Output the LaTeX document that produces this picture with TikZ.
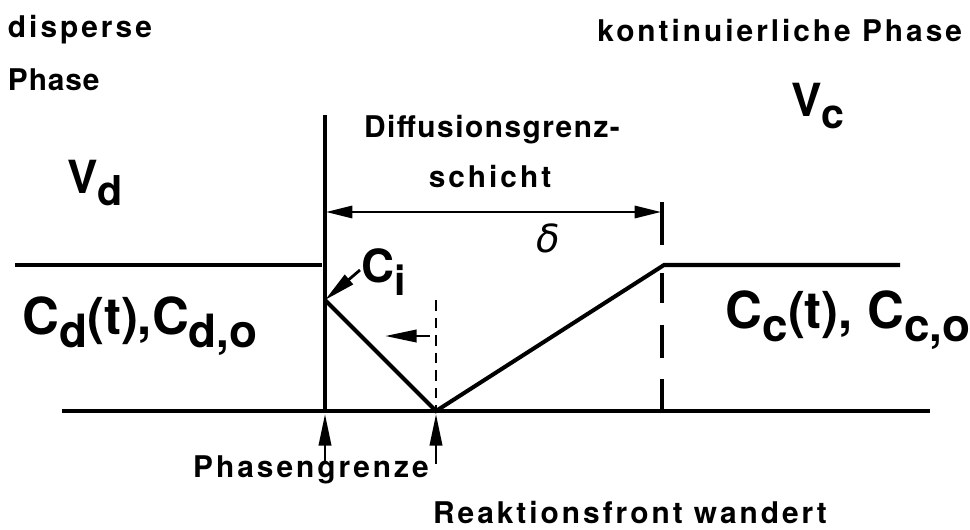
\documentclass[tikz,border=0pt]{standalone}
\usepackage{fontspec}
\setmainfont{TeX Gyre Heros}
\newfontfamily\grk{DejaVu Sans}
\usetikzlibrary{arrows.meta}
\newcommand{\lowsub}[1]{\raisebox{-0.5ex}{\scalebox{0.9}{#1}}}
\begin{document}
\begin{tikzpicture}[x=0.02cm,y=-0.02cm,
  every node/.style={inner sep=0pt,outer sep=0pt},
  lbl/.style={font=\fontsize{17}{19}\selectfont\bfseries\addfontfeature{LetterSpace=10}},
  big/.style={font=\fontsize{29}{32}\selectfont\bfseries},
  mid/.style={font=\fontsize{26}{30}\selectfont\bfseries},
  mainline/.style={line width=2.3pt},
  arrowline/.style={-{Stealth[length=18pt,width=7pt,inset=0pt]}, line width=1.6pt},
  dimline/.style={{Stealth[length=15pt,width=7pt,inset=0pt]}-{Stealth[length=15pt,width=7pt,inset=0pt]}, line width=1.3pt}
  ]
\useasboundingbox (0,0) rectangle (970,529);

% coordinates
\coordinate (pgTop) at (325,115);
\coordinate (pgBot) at (325,412);
\coordinate (ci) at (325,300);
\coordinate (rf) at (436,411);
\coordinate (dEnd) at (664,265);
\coordinate (lL) at (15,265);
\coordinate (lR) at (322,265);
\coordinate (rR) at (900,265);
\coordinate (bL) at (62,411);
\coordinate (bR) at (930,411);
\coordinate (rfTop) at (436,300);
\coordinate (dTop) at (662,202);
\coordinate (dBot) at (662,411);
\coordinate (dimL) at (326,212);
\coordinate (dimR) at (661,212);

% main lines
\draw[mainline] (pgTop) -- (pgBot);
\draw[mainline] (bL) -- (bR);
\draw[mainline] (lL) -- (lR);
\draw[mainline, line join=miter] (ci) -- (rf) -- (dEnd) -- (rR);
\draw[line width=1.6pt, dash pattern=on 6pt off 4pt] (rfTop) -- (rf);
\draw[line width=2.2pt, dash pattern=on 24.4pt off 15.9pt on 17pt off 12.5pt on 18.7pt off 12.5pt on 18pt] (dTop) -- (dBot);
\draw[dimline] (dimL) -- (dimR);

% texts
\node[lbl, anchor=west] (disp) at (8,30) {disperse};
\node[lbl, anchor=west, font=\fontsize{17}{19}\selectfont\bfseries\addfontfeature{LetterSpace=3}] (phl) at (8,80) {Phase};
\node[mid] (vd) at (95,183) {V\lowsub{d}};
\node[lbl, anchor=east] (kont) at (962,30) {kontinuierliche Phase};
\node[mid] (vc) at (818,106) {V\lowsub{c}};
\node[lbl, font=\fontsize{17}{19}\selectfont\bfseries\addfontfeature{LetterSpace=5}] (diff) at (492,130) {Diffusionsgrenz-};
\node[lbl] (schicht) at (490,176) {schicht};
\node[font=\grk\fontsize{22}{24}\selectfont\itshape] (delta) at (548,238) {δ};
\node[mid] (cilab) at (384,272) {C\lowsub{i}};
\node[big] (cd) at (140,326) {C\lowsub{d}(t),C\lowsub{d,o}};
\node[big] (cc) at (848,320) {C\lowsub{c}(t), C\lowsub{c,o}};
\node[lbl] (phg) at (311,470) {Phasengrenze};
\node[lbl] (rfw) at (630,512) {Reaktionsfront wandert};

% arrows
\coordinate (ciTail) at (360,270);
\draw[arrowline] (ciTail) -- (ci);
\coordinate (mvR) at (430,336);
\coordinate (mvL) at (385,336);
\draw[arrowline] (mvR) -- (mvL);
\coordinate (pgArr) at (325,464);
\coordinate (pgHead) at (325,414);
\draw[arrowline] (pgArr) -- (pgHead);
\coordinate (rfArr) at (436,464);
\coordinate (rfHead) at (436,414);
\draw[arrowline] (rfArr) -- (rfHead);
\end{tikzpicture}
\end{document}
